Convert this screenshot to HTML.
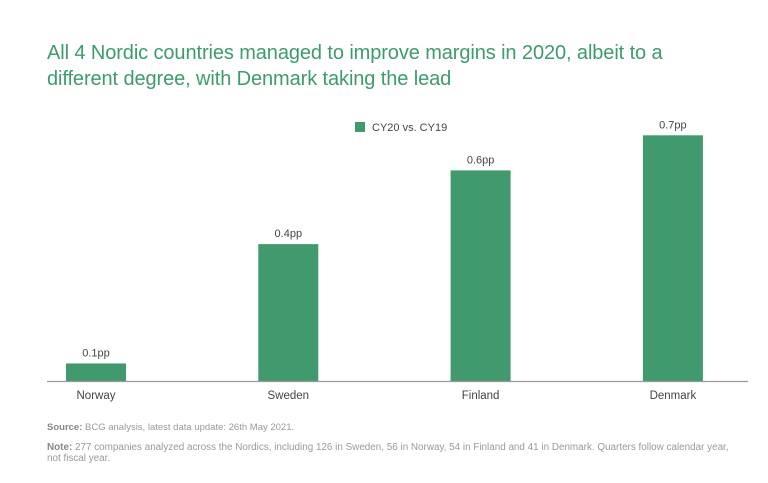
<!DOCTYPE html>
<html><head><meta charset="utf-8"><style>
body{margin:0;width:768px;height:483px;background:#fff;font-family:"Liberation Sans",sans-serif;overflow:hidden;position:relative}
#title{position:absolute;left:47px;top:40px;font-size:20px;line-height:26px;color:#3d9b6c;letter-spacing:-0.1px}
.fn{position:absolute;left:47px;color:#999;line-height:11px}
.fn b{color:#888}
</style></head><body>
<div id="title">All 4 Nordic countries managed to improve margins in 2020, albeit to a<br>different degree, with Denmark taking the lead</div>
<svg id="chart" width="768" height="483" style="position:absolute;left:0;top:0"></svg>
<div class="fn" style="top:422px;font-size:9.5px"><b>Source:</b> BCG analysis, latest data update: 26th May 2021.</div>
<div class="fn" style="top:442px;font-size:9.9px"><b>Note:</b> 277 companies analyzed across the Nordics, including 126 in Sweden, 56 in Norway, 54 in Finland and 41 in Denmark. Quarters follow calendar year,<br>not fiscal year.</div>
<script>
const categories=["Norway","Sweden","Finland","Denmark"];
const values=[0.05,0.39,0.6,0.7];
const labels=["0.1pp","0.4pp","0.6pp","0.7pp"];
const NS="http://www.w3.org/2000/svg";
const svg=document.getElementById('chart');
const base=381,scale=351,x0=66,step=192.3,bw=60;
const y=v=>base-v*scale;
const xc=i=>x0+i*step;
function mk(t,a){const e=document.createElementNS(NS,t);for(const k in a)e.setAttribute(k,a[k]);svg.appendChild(e);return e;}
categories.forEach((c,i)=>{
 const r=mk('rect',{x:xc(i),y:y(values[i]),width:bw,height:base-y(values[i]),fill:'#419a6e'});
 
 
 const t=mk('text',{x:xc(i)+bw/2,y:y(values[i])-7,'text-anchor':'middle','font-size':'11',fill:'#444','font-family':'Liberation Sans'});
 t.textContent=labels[i];
 
 
 const l=mk('text',{x:xc(i)+bw/2,y:base+18,'text-anchor':'middle','font-size':'11.5',fill:'#444','font-family':'Liberation Sans'});
 l.textContent=c;
 
 
});
const ax=mk('line',{x1:47,x2:748,y1:base+0.5,y2:base+0.5,stroke:'#999','stroke-width':1.2});


const lg=mk('rect',{x:355,y:122,width:10,height:10,fill:'#419a6e'});


const lt=mk('text',{x:372,y:131,'font-size':'11',fill:'#444','font-family':'Liberation Sans'});
lt.textContent='CY20 vs. CY19';


</script>
</body></html>
